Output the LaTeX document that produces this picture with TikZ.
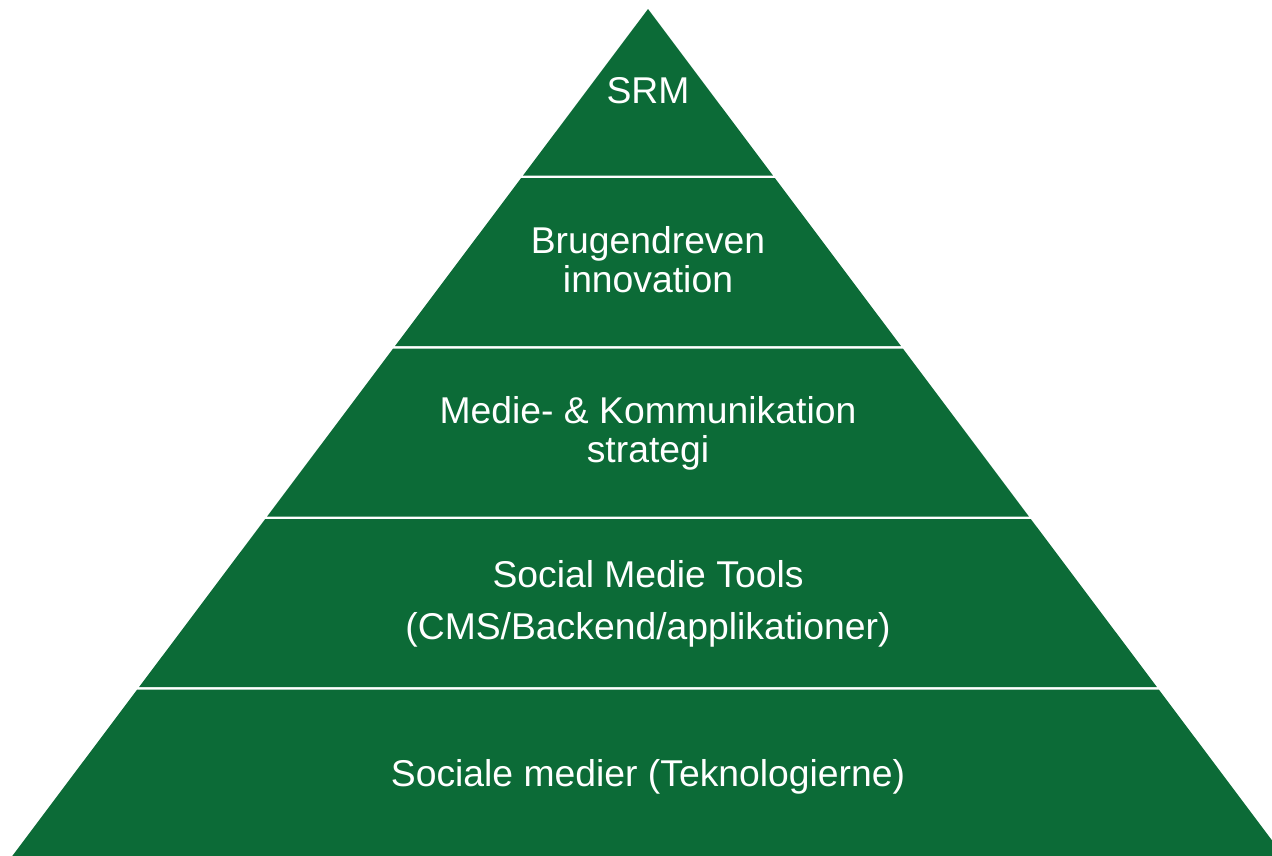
\documentclass[tikz,border=0pt]{standalone}
\usepackage{fontspec}
\setmainfont{Liberation Sans}
\definecolor{pgreen}{RGB}{12,107,55}
\begin{document}
\begin{tikzpicture}[x=1pt,y=-1pt,
  declare function={hw(\t)=(\t-9)*0.7506;},
  band/.style={fill=pgreen,draw=none},
  lbl/.style={text=white,font=\fontsize{37.3}{41}\selectfont,anchor=base,inner sep=0pt}]
\useasboundingbox (0,0) rectangle (1272,855);
\clip (0,0) rectangle (1272,855);
% top triangle
\fill[band] (648,9) -- ({648+hw(175.5)},175.5) -- ({648-hw(175.5)},175.5) -- cycle;
% lower bands
\foreach \tp/\bt in {178/346, 348.5/516.5, 519/687, 689.5/870}{
  \fill[band] ({648-hw(\tp)},\tp) -- ({648+hw(\tp)},\tp) -- ({648+hw(\bt)},\bt) -- ({648-hw(\bt)},\bt) -- cycle;
}
\node[lbl] (srm) at (648,103) {SRM};
\node[lbl] (bru) at (648,253) {Brugendreven};
\node[lbl] (inn) at (648,292) {innovation};
\node[lbl] (med) at (648,423) {Medie- \& Kommunikation};
\node[lbl] (str) at (648,462) {strategi};
\node[lbl] (smt) at (648,587) {Social Medie Tools};
\node[lbl] (cms) at (648,639) {(CMS/Backend/applikationer)};
\node[lbl] (som) at (648,786) {Sociale medier (Teknologierne)};
\end{tikzpicture}
\end{document}
